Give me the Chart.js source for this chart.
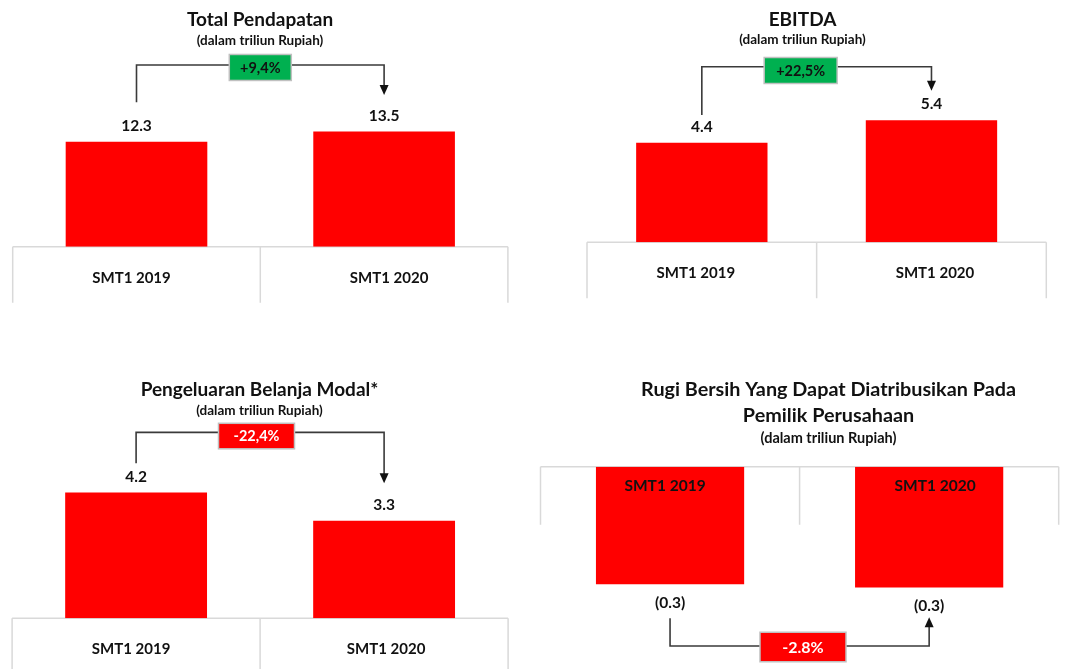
<!DOCTYPE html>
<html>
<head>
<meta charset="utf-8">
<script src="https://cdn.jsdelivr.net/npm/chart.js@4"></script>
<style>
  html, body { margin: 0; padding: 0; background: #fff; }
  #wrap { position: relative; width: 1065px; height: 669px; }
  #wrap canvas { position: absolute; left: 0; top: 0; }
</style>
</head>
<body>
<div id="wrap">
  <canvas id="c1" width="1065" height="669"></canvas>
  <canvas id="c2" width="1065" height="669"></canvas>
  <canvas id="c3" width="1065" height="669"></canvas>
  <canvas id="c4" width="1065" height="669"></canvas>
</div>
<script>
const categories = ["SMT1 2019", "SMT1 2020"];
const pendapatan = [12.3, 13.5];
const ebitda = [4.4, 5.4];
const belanjaModal = [4.22, 3.27];
const rugiBersih = [-0.300, -0.308];
const changeLabels = ["+9,4%", "+22,5%", "-22,4%", "-2.8%"];
const subtitle = "(dalam triliun Rupiah)";

const FONT = "Lato, 'Open Sans', sans-serif";
const RED = "#ff0000";
const GREEN = "#00b050";

const fmtPos = v => v.toFixed(1);
const fmtNeg = v => "(" + Math.abs(v).toFixed(1) + ")";

// draws the table under the axis, titles, value labels and the change bracket
const decor = {
  id: "decor",
  beforeDatasetsDraw(chart, args, o) {
    const { ctx, chartArea: a, scales: { y } } = chart;
    const zero = y.getPixelForValue(0);
    ctx.save();
    ctx.strokeStyle = "#d9d9d9";
    ctx.lineWidth = 1.5;
    ctx.beginPath();
    ctx.moveTo(a.left, zero);
    ctx.lineTo(a.right, zero);
    [a.left, (a.left + a.right) / 2, a.right].forEach(px => {
      ctx.moveTo(px, zero);
      ctx.lineTo(px, zero + o.tableDepth);
    });
    ctx.stroke();
    ctx.restore();
  },
  afterDatasetsDraw(chart, args, o) {
    const { ctx, chartArea: a, scales: { x, y } } = chart;
    const zero = y.getPixelForValue(0);
    const bars = chart.getDatasetMeta(0).data;
    const values = chart.data.datasets[0].data;
    ctx.save();
    ctx.textAlign = "center";
    ctx.textBaseline = "middle";
    ctx.fillStyle = "#111";

    o.titles.forEach(t => {
      ctx.font = "bold " + t.size + "px " + FONT;
      ctx.fillText(t.text, o.titleX, t.y);
    });

    ctx.font = "bold " + o.catSize + "px " + FONT;
    chart.data.labels.forEach((lab, i) => {
      ctx.fillText(lab, x.getPixelForValue(i) + o.catDx[i], zero + o.catDy);
    });

    ctx.font = "bold 15.5px " + FONT;
    bars.forEach((b, i) => {
      ctx.fillText(o.fmt(values[i]), b.x, b.y + o.valueDy);
    });

    // bracket
    const br = o.bracket;
    const xl = bars[0].x, xr = bars[1].x;
    const yLevel = y.getPixelForValue(br.level);
    const yStart = y.getPixelForValue(br.start);
    const yTip = y.getPixelForValue(br.tip);
    const dir = yTip > yLevel ? 1 : -1;
    ctx.strokeStyle = "#3a3a3a";
    ctx.lineWidth = 1.6;
    ctx.beginPath();
    ctx.moveTo(xl, yStart);
    ctx.lineTo(xl, yLevel);
    ctx.lineTo(xr, yLevel);
    ctx.lineTo(xr, yTip - dir * 9);
    ctx.stroke();
    ctx.fillStyle = "#111";
    ctx.beginPath();
    ctx.moveTo(xr - 4.5, yTip - dir * 10);
    ctx.lineTo(xr + 4.5, yTip - dir * 10);
    ctx.lineTo(xr, yTip);
    ctx.closePath();
    ctx.fill();

    const bx = (a.left + a.right) / 2 + br.dx;
    const by = yLevel + br.dy;
    ctx.fillStyle = br.fill;
    ctx.fillRect(bx - br.w / 2, by - br.h / 2, br.w, br.h);
    ctx.strokeStyle = "#c0c0c0";
    ctx.lineWidth = 1.5;
    ctx.strokeRect(bx - br.w / 2, by - br.h / 2, br.w, br.h);
    ctx.fillStyle = br.color;
    ctx.font = "bold " + br.size + "px " + FONT;
    ctx.fillText(br.text, bx, by + 0.5);
    ctx.restore();
  }
};

function makePanel(id, values, pad, yRange, decorOpts) {
  return new Chart(document.getElementById(id), {
    type: "bar",
    data: {
      labels: categories,
      datasets: [{
        data: values,
        backgroundColor: RED,
        borderWidth: 0,
        categoryPercentage: 1,
        barPercentage: 0.572
      }]
    },
    options: {
      responsive: false,
      animation: false,
      devicePixelRatio: 1,
      layout: { padding: pad },
      scales: {
        x: { display: false },
        y: { display: false, min: yRange[0], max: yRange[1] }
      },
      plugins: {
        legend: { display: false },
        tooltip: { enabled: false },
        decor: decorOpts
      }
    },
    plugins: [decor]
  });
}

makePanel("c1", pendapatan,
  { left: 12.7, right: 557.1, top: 59, bottom: 422.3 }, [0, 22], {
    titleX: 260,
    titles: [{ text: "Total Pendapatan", y: 20, size: 19 }, { text: subtitle, y: 40.7, size: 13.5 }],
    tableDepth: 56, catDy: 31, catSize: 15, catDx: [-5, 5], valueDy: -16, fmt: fmtPos,
    bracket: { level: 21.3, start: 16.93, tip: 17.78, dx: 0, dy: 2.5, w: 62, h: 26,
      fill: GREEN, color: "#111", size: 14.5, text: changeLabels[0] }
  });

makePanel("c2", ebitda,
  { left: 587, right: 18.7, top: 61.5, bottom: 426.7 }, [0, 8], {
    titleX: 802.5,
    titles: [{ text: "EBITDA", y: 20, size: 19 }, { text: subtitle, y: 39.7, size: 13.5 }],
    tableDepth: 56, catDy: 31, catSize: 15, catDx: [-6, 3.5], valueDy: -16, fmt: fmtPos,
    bracket: { level: 7.77, start: 5.63, tip: 6.71, dx: -16, dy: 3.8, w: 73, h: 26,
      fill: GREEN, color: "#111", size: 14.5, text: changeLabels[1] }
  });

makePanel("c3", belanjaModal,
  { left: 12.1, right: 556.9, top: 439.5, bottom: 50.7 }, [0, 6], {
    titleX: 259.5,
    titles: [{ text: "Pengeluaran Belanja Modal*", y: 390, size: 19 }, { text: subtitle, y: 410.5, size: 13.5 }],
    tableDepth: 56, catDy: 31, catSize: 15, catDx: [-5, 2], valueDy: -16, fmt: fmtPos,
    bracket: { level: 6.24, start: 5.20, tip: 4.53, dx: -3.6, dy: 3.7, w: 76, h: 25.5,
      fill: RED, color: "#fff", size: 14.5, text: changeLabels[2] }
  });

makePanel("c4", rugiBersih,
  { left: 540.5, right: 6.3, top: 466.7, bottom: 65.1 }, [-0.35, 0], {
    titleX: 828.5,
    titles: [
      { text: "Rugi Bersih Yang Dapat Diatribusikan Pada", y: 390, size: 19.8 },
      { text: "Pemilik Perusahaan", y: 416, size: 19.8 },
      { text: subtitle, y: 438.3, size: 14.5 }
    ],
    tableDepth: 58, catDy: 19, catSize: 15.5, catDx: [-5, 6], valueDy: 19, fmt: fmtNeg,
    bracket: { level: -0.4574, start: -0.3867, tip: -0.384, dx: 3.4, dy: 1, w: 86, h: 29.5,
      fill: RED, color: "#fff", size: 16, text: changeLabels[3] }
  });
</script>
</body>
</html>
